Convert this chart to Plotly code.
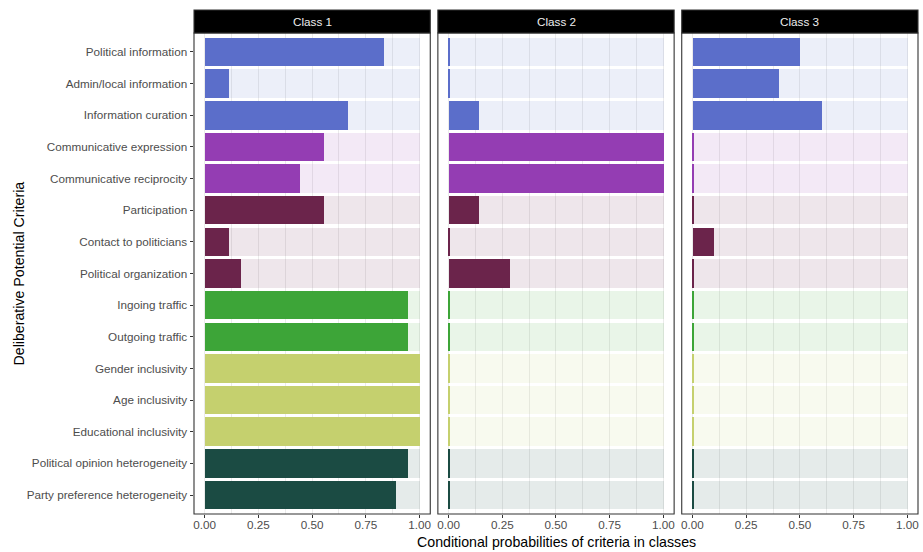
import plotly.graph_objects as go

# Criteria, top to bottom
categories = [
    "Political information", "Admin/local information", "Information curation",
    "Communicative expression", "Communicative reciprocity",
    "Participation", "Contact to politicians", "Political organization",
    "Ingoing traffic", "Outgoing traffic",
    "Gender inclusivity", "Age inclusivity", "Educational inclusivity",
    "Political opinion heterogeneity", "Party preference heterogeneity",
]
groups = ["info", "info", "info", "comm", "comm", "part", "part", "part",
          "traffic", "traffic", "incl", "incl", "incl", "het", "het"]
group_rgb = {
    "info": (91, 110, 202),
    "comm": (148, 61, 179),
    "part": (107, 36, 75),
    "traffic": (61, 165, 56),
    "incl": (197, 208, 110),
    "het": (27, 75, 67),
}

class_names = ["Class 1", "Class 2", "Class 3"]
class1 = [0.833, 0.111, 0.667, 0.556, 0.444, 0.556, 0.111, 0.167,
          0.944, 0.944, 1.0, 1.0, 1.0, 0.944, 0.889]
class2 = [0.003, 0.003, 0.143, 1.0, 1.0, 0.143, 0.003, 0.286,
          0.003, 0.003, 0.003, 0.003, 0.003, 0.003, 0.003]
class3 = [0.5, 0.4, 0.6, 0.003, 0.003, 0.003, 0.1, 0.003,
          0.003, 0.003, 0.003, 0.003, 0.003, 0.003, 0.003]
class_values = [class1, class2, class3]
full_scale = [1.0] * len(categories)

W, H = 923, 552
ML, MR, MT, MB = 194, 5, 33, 38
PW, PH = W - ML - MR, H - MT - MB
gap = 7.6 / PW
pw = (1 - 2 * gap) / 3
domains = [[0, pw], [pw + gap, 2 * pw + gap], [2 * pw + 2 * gap, 1]]

solid = ["rgb(%d,%d,%d)" % group_rgb[g] for g in groups]
faint = ["rgba(%d,%d,%d,0.115)" % group_rgb[g] for g in groups]

FAMILY = "Liberation Sans, Arial, sans-serif"
TICK_FONT = dict(family=FAMILY, size=11.7, color="#4D4D4D")
TITLE_FONT = dict(family=FAMILY, size=14.2, color="#000000")

fig = go.Figure()
axis_ids = ["x", "x2", "x3"]
for i, vals in enumerate(class_values):
    fig.add_trace(go.Bar(
        x=full_scale, y=categories, orientation="h", width=0.9,
        marker=dict(color=faint, line=dict(width=0)),
        xaxis=axis_ids[i], yaxis="y", showlegend=False, hoverinfo="skip",
    ))
for i, vals in enumerate(class_values):
    fig.add_trace(go.Bar(
        x=vals, y=categories, orientation="h", width=0.9,
        marker=dict(color=solid, line=dict(width=0)),
        xaxis=axis_ids[i], yaxis="y", showlegend=False,
    ))

n = len(categories)
layout = dict(
    width=W, height=H,
    margin=dict(l=ML, r=MR, t=MT, b=MB, autoexpand=False),
    paper_bgcolor="white", plot_bgcolor="white",
    barmode="overlay", bargap=0,
    font=dict(family=FAMILY),
    yaxis=dict(
        type="category", categoryorder="array", categoryarray=categories,
        range=[n - 0.4, -0.6], domain=[0, 1], anchor="x",
        showgrid=False, zeroline=False, showline=False,
        ticks="outside", ticklen=3.5, tickwidth=1, tickcolor="#333333",
        tickfont=TICK_FONT, fixedrange=True,
    ),
)
for i, ax in enumerate(["xaxis", "xaxis2", "xaxis3"]):
    layout[ax] = dict(
        domain=domains[i], anchor="y", range=[-0.05, 1.05],
        tickmode="linear", tick0=0, dtick=0.25, tickformat=".2f",
        showgrid=True, gridcolor="#EBEBEB", gridwidth=1,
        minor=dict(dtick=0.125, tick0=0, showgrid=True, gridcolor="#EBEBEB",
                   gridwidth=0.55, ticks=""),
        zeroline=False, showline=False,
        ticks="outside", ticklen=3, tickwidth=1, tickcolor="#333333",
        ticklabelstandoff=-3,
        tickfont=TICK_FONT, fixedrange=True,
    )
fig.update_layout(**layout)

shapes = []
annotations = []
strip_h = 23 / PH
for i, name in enumerate(class_names):
    xr = axis_ids[i] + " domain"
    shapes.append(dict(type="rect", xref=xr, yref="y domain", x0=0, x1=1, y0=0, y1=1,
                       line=dict(color="#333333", width=1.1), fillcolor="rgba(0,0,0,0)",
                       layer="above"))
    shapes.append(dict(type="rect", xref=xr, yref="paper", x0=0, x1=1, y0=1, y1=1 + strip_h,
                       line=dict(color="#333333", width=1.1), fillcolor="#000000",
                       layer="above"))
    annotations.append(dict(text=name, xref=xr, yref="paper", x=0.5, y=1 + strip_h / 2,
                            showarrow=False, xanchor="center", yanchor="middle",
                            font=dict(family=FAMILY, size=11.7, color="#EEEEEE")))

annotations.append(dict(text="Conditional probabilities of criteria in classes",
                        xref="paper", yref="paper", x=0.5, y=-(541.5 - (MT + PH)) / PH,
                        showarrow=False, xanchor="center", yanchor="middle",
                        font=TITLE_FONT))
annotations.append(dict(text="Deliberative Potential Criteria",
                        xref="paper", yref="paper", x=(18 - ML) / PW, y=0.5,
                        showarrow=False, xanchor="center", yanchor="middle",
                        textangle=-90, font=TITLE_FONT))
fig.update_layout(shapes=shapes, annotations=annotations)

fig.write_html("out.html")
